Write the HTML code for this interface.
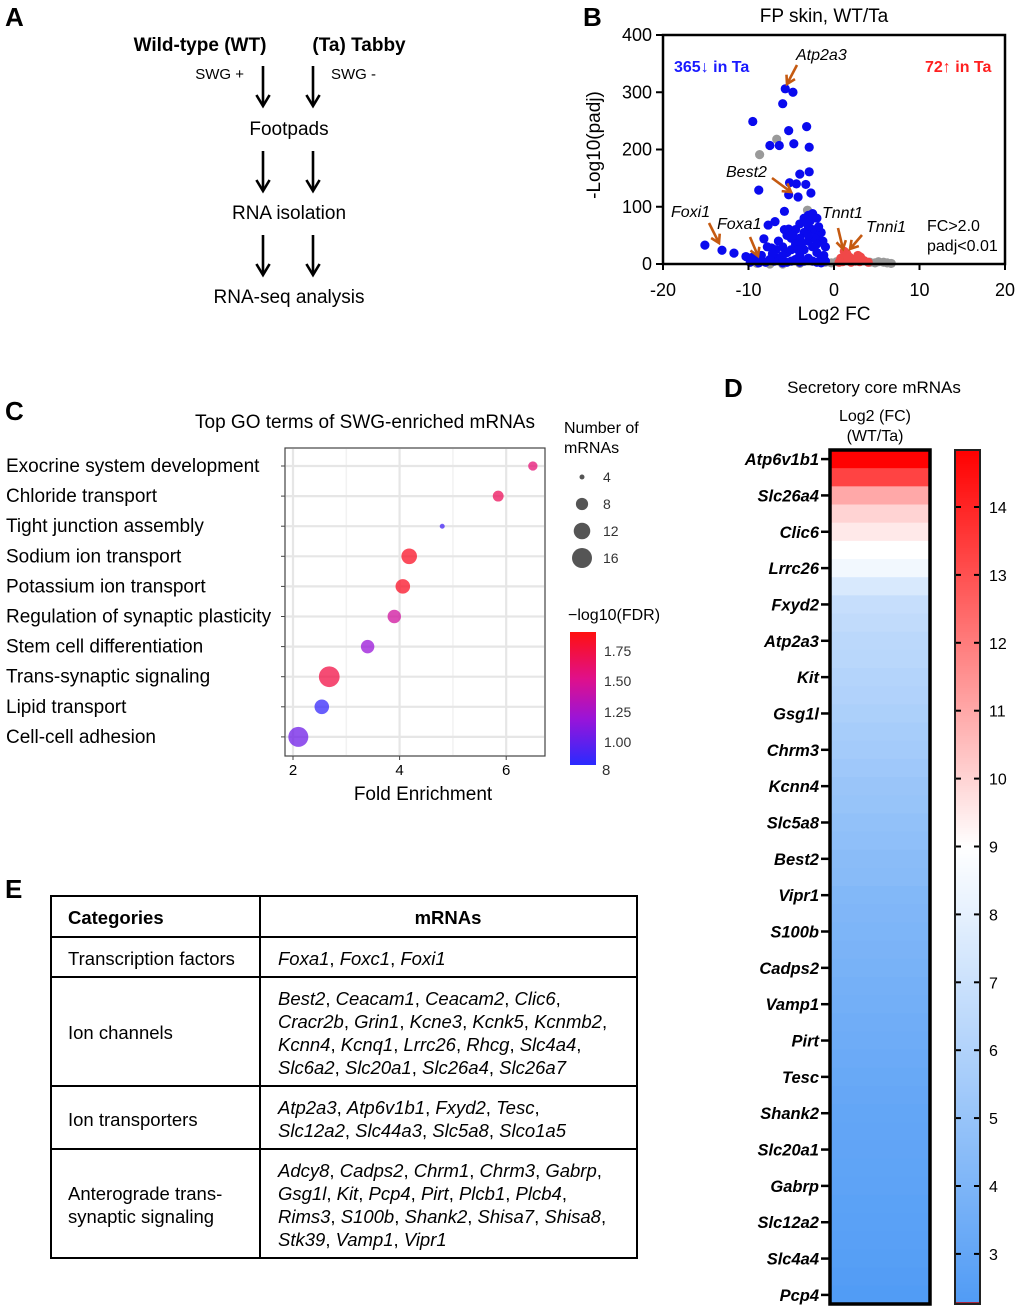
<!DOCTYPE html>
<html><head><meta charset="utf-8">
<style>
html,body{margin:0;padding:0;background:#fff;}
svg{display:block;font-family:"Liberation Sans",Arial,sans-serif;}
</style></head>
<body>
<svg id="fig" width="1020" height="1312" viewBox="0 0 1020 1312">
<defs>
<linearGradient id="fdrgrad" x1="0" y1="1" x2="0" y2="0"><stop offset="0" stop-color="#2a2aff"/><stop offset="0.35" stop-color="#9a14d8"/><stop offset="0.65" stop-color="#e0108a"/><stop offset="1" stop-color="#ff1010"/></linearGradient>
</defs>

<!-- Panel A -->
<g>
<text x="5" y="26" font-size="26" font-weight="bold">A</text>
<text x="200" y="51" font-size="19" font-weight="bold" text-anchor="middle">Wild-type (WT)</text>
<text x="359" y="51" font-size="19" font-weight="bold" text-anchor="middle">(Ta) Tabby</text>
<text x="244" y="79" font-size="15" text-anchor="end">SWG +</text>
<text x="331" y="79" font-size="15">SWG -</text>
<g id="flow"></g>
<text x="289" y="135" font-size="19" text-anchor="middle">Footpads</text>
<text x="289" y="219" font-size="19" text-anchor="middle">RNA isolation</text>
<text x="289" y="303" font-size="19" text-anchor="middle">RNA-seq analysis</text>
</g>

<!-- Panel B -->
<g id="volcano">
<text x="583" y="26" font-size="26" font-weight="bold">B</text>
<text x="824" y="22" font-size="19" text-anchor="middle">FP skin, WT/Ta</text>
<text transform="translate(600,145) rotate(-90)" font-size="19" text-anchor="middle">-Log10(padj)</text>
<text x="834" y="320" font-size="19" text-anchor="middle">Log2 FC</text>
<g id="vpts"></g>
<rect x="663" y="35" width="342" height="229" fill="none" stroke="#000" stroke-width="2.5"/>
<g id="vaxes"></g>
<text x="674" y="72" font-size="16" font-weight="bold" fill="#1a1aff">365↓ in Ta</text>
<text x="925" y="72" font-size="16" font-weight="bold" fill="#ff2020">72↑ in Ta</text>
<g font-size="16" font-style="italic">
<text x="796" y="60">Atp2a3</text><text x="726" y="177">Best2</text><text x="671" y="217">Foxi1</text>
<text x="717" y="229">Foxa1</text><text x="822" y="218">Tnnt1</text><text x="866" y="232">Tnni1</text>
</g>
<g id="oarrows"></g>
<text x="927" y="231" font-size="16">FC&gt;2.0</text>
<text x="927" y="251" font-size="16">padj&lt;0.01</text>
</g>

<!-- Panel C -->
<g id="dotplot">
<text x="5" y="420" font-size="26" font-weight="bold">C</text>
<text x="195" y="428" font-size="19">Top GO terms of SWG-enriched mRNAs</text>
<rect x="285" y="448" width="260" height="308" fill="#fff" stroke="#444" stroke-width="1.2"/>
<g id="cgrid"></g><g id="cpts"></g><g id="clabels"></g>
<text x="423" y="800" font-size="19" text-anchor="middle">Fold Enrichment</text>
<text x="564" y="433" font-size="16">Number of</text>
<text x="564" y="453" font-size="16">mRNAs</text>
<g id="sizeleg"></g>
<text x="568" y="620" font-size="16">−log10(FDR)</text>
<rect x="570" y="632" width="26" height="133" fill="url(#fdrgrad)"/>
<g font-size="14" fill="#333">
<text x="604" y="656">1.75</text><text x="604" y="686">1.50</text><text x="604" y="717">1.25</text><text x="604" y="747">1.00</text><text x="602" y="775" font-size="15">8</text>
</g>
</g>

<!-- Panel D -->
<g id="heat">
<text x="724" y="397" font-size="26" font-weight="bold">D</text>
<text x="874" y="393" font-size="17" text-anchor="middle">Secretory core mRNAs</text>
<text x="875" y="421" font-size="16" text-anchor="middle">Log2 (FC)</text>
<text x="875" y="441" font-size="16" text-anchor="middle">(WT/Ta)</text>
<g id="hcells"></g><g id="hlabels"></g><g id="hbar"></g>
<rect x="830" y="450" width="100" height="854" fill="none" stroke="#000" stroke-width="3.5"/>
<rect x="955" y="450" width="25" height="854" fill="none" stroke="#222" stroke-width="2"/>
</g>

<!-- Panel E -->
<g font-size="18.5">
<text x="5" y="898" font-size="26" font-weight="bold">E</text>
<rect x="51" y="896" width="586" height="362" fill="none" stroke="#000" stroke-width="2"/>
<g stroke="#000" stroke-width="2">
<line x1="260" y1="896" x2="260" y2="1258"/>
<line x1="51" y1="937" x2="637" y2="937"/><line x1="51" y1="977" x2="637" y2="977"/>
<line x1="51" y1="1086" x2="637" y2="1086"/><line x1="51" y1="1149" x2="637" y2="1149"/>
</g>
<text x="68" y="924" font-weight="bold">Categories</text>
<text x="448" y="924" font-weight="bold" text-anchor="middle">mRNAs</text>
<text x="68" y="965">Transcription factors</text>
<text x="68" y="1039">Ion channels</text>
<text x="68" y="1126">Ion transporters</text>
<text x="68" y="1200">Anterograde trans-</text>
<text x="68" y="1223">synaptic signaling</text>
<g font-style="italic">
<text x="278" y="965">Foxa1<tspan font-style="normal">, </tspan>Foxc1<tspan font-style="normal">, </tspan>Foxi1</text>
<text x="278" y="1005">Best2<tspan font-style="normal">, </tspan>Ceacam1<tspan font-style="normal">, </tspan>Ceacam2<tspan font-style="normal">, </tspan>Clic6<tspan font-style="normal">,</tspan></text>
<text x="278" y="1028">Cracr2b<tspan font-style="normal">, </tspan>Grin1<tspan font-style="normal">, </tspan>Kcne3<tspan font-style="normal">, </tspan>Kcnk5<tspan font-style="normal">, </tspan>Kcnmb2<tspan font-style="normal">,</tspan></text>
<text x="278" y="1051">Kcnn4<tspan font-style="normal">, </tspan>Kcnq1<tspan font-style="normal">, </tspan>Lrrc26<tspan font-style="normal">, </tspan>Rhcg<tspan font-style="normal">, </tspan>Slc4a4<tspan font-style="normal">,</tspan></text>
<text x="278" y="1074">Slc6a2<tspan font-style="normal">, </tspan>Slc20a1<tspan font-style="normal">, </tspan>Slc26a4<tspan font-style="normal">, </tspan>Slc26a7</text>
<text x="278" y="1114">Atp2a3<tspan font-style="normal">, </tspan>Atp6v1b1<tspan font-style="normal">, </tspan>Fxyd2<tspan font-style="normal">, </tspan>Tesc<tspan font-style="normal">,</tspan></text>
<text x="278" y="1137">Slc12a2<tspan font-style="normal">, </tspan>Slc44a3<tspan font-style="normal">, </tspan>Slc5a8<tspan font-style="normal">, </tspan>Slco1a5</text>
<text x="278" y="1177">Adcy8<tspan font-style="normal">, </tspan>Cadps2<tspan font-style="normal">, </tspan>Chrm1<tspan font-style="normal">, </tspan>Chrm3<tspan font-style="normal">, </tspan>Gabrp<tspan font-style="normal">,</tspan></text>
<text x="278" y="1200">Gsg1l<tspan font-style="normal">, </tspan>Kit<tspan font-style="normal">, </tspan>Pcp4<tspan font-style="normal">, </tspan>Pirt<tspan font-style="normal">, </tspan>Plcb1<tspan font-style="normal">, </tspan>Plcb4<tspan font-style="normal">,</tspan></text>
<text x="278" y="1223">Rims3<tspan font-style="normal">, </tspan>S100b<tspan font-style="normal">, </tspan>Shank2<tspan font-style="normal">, </tspan>Shisa7<tspan font-style="normal">, </tspan>Shisa8<tspan font-style="normal">,</tspan></text>
<text x="278" y="1246">Stk39<tspan font-style="normal">, </tspan>Vamp1<tspan font-style="normal">, </tspan>Vipr1</text>
</g>
</g>
</svg>
<script>
const NS='http://www.w3.org/2000/svg';
function mk(tag,attrs,parent){const e=document.createElementNS(NS,tag);for(const k in attrs)e.setAttribute(k,attrs[k]);parent.appendChild(e);return e;}
function arrow(x1,y1,x2,y2,col,w,hl,parent){
  const dx=x2-x1,dy=y2-y1,L=Math.hypot(dx,dy),ux=dx/L,uy=dy/L,px=-uy,py=ux;
  mk('line',{x1:x1,y1:y1,x2:x2-ux*1,y2:y2-uy*1,stroke:col,'stroke-width':w},parent);
  const bx=x2-ux*hl,by=y2-uy*hl;
  mk('polyline',{points:`${bx+px*hl*0.6},${by+py*hl*0.6} ${x2},${y2} ${bx-px*hl*0.6},${by-py*hl*0.6}`,fill:'none',stroke:col,'stroke-width':w,'stroke-linejoin':'miter'},parent);
}
const fl=document.getElementById('flow');
[[66,106],[151,191],[235,275]].forEach(([a,b])=>{arrow(263,a,263,b,'#000',2.6,11,fl);arrow(313,a,313,b,'#000',2.6,11,fl);});
const oa=document.getElementById('oarrows');
[[797,65,787,84],[772,178,791,192],[709,223,719,243],[750,237,758,256],[838,228,843,249],[862,235,850,249]].forEach(a=>arrow(a[0],a[1],a[2],a[3],'#c55a11',2.6,8,oa));

// ===== Panel B data =====
const volcanoXTicks=[-20,-10,0,10,20];
const volcanoYTicks=[0,100,200,300,400];
const greyPoints=[[-6.7,218],[-8.7,191],[-3.1,94],[-1,3],[-0.3,2],[0.3,4],[4.2,3],[4.8,2],[5.2,4],[5.8,3],[6.2,2],[6.7,1],[-6,0],[-4,1],[-9,1],[-7.5,0]];
const bluePoints=[[-5.7,306],[-4.8,300],[-6.0,280],[-9.5,249],[-3.2,240],[-5.3,233],[-7.5,207],[-6.4,207],[-4.7,210],[-2.9,204],[-4.0,157],[-2.9,161],[-8.8,129],[-5.2,142],[-4.4,140],[-3.3,139],[-2.7,124],[-5.3,121],[-4.2,117],[-5.8,92],[-6.9,74],[-7.7,68],[-5.3,61],[-8.2,44],[-7.3,28],[-15.1,33],[-13.1,24],[-11.7,19],[-10.3,13],[-8.5,5],
[-6.5,40],[-6,30],[-5.5,50],[-5,45],[-4.5,60],[-4,70],[-3.5,80],[-3,85],[-2.5,88],[-2,80],[-1.5,55],[-1,30],[-1.2,15],[-2,50],[-2.5,60],[-3,65],[-3.5,55],[-4,45],[-4.5,35],[-5,25],[-5.5,20],[-6,15],[-6.5,10],[-7,5],[-7.5,8],[-8,3],[-3,40],[-2.5,30],[-2,20],[-1.5,10],[-3.5,25],[-4,15],[-4.5,8],[-5,5],[-5.5,3],[-6,2],[-3,10],[-2.5,5],[-2,3],[-1.5,2],[-3.5,5],[-4,3],[-2.8,75],[-3.2,72],[-1.8,65],[-2.2,45],[-3.8,35],[-4.2,25],[-1.3,40],[-6.8,25],[-7.2,18],[-9.5,12],[-9,8],[-8.5,15],[-7.8,30],[-5.8,60],[-4.8,50],[-3,50],[-2,35],[-1,5],[-9.8,3],[-8.8,2]];
const redPoints=[[1.2,22],[1.5,18],[0.8,10],[1.8,12],[2.2,8],[2.8,15],[3.1,12],[3.5,6],[4,3],[1,4],[2,3],[2.5,5],[1.3,14],[0.6,3],[1.6,6],[3.0,4]];

const vx=v=>834+v*8.55, vy=v=>264-v*0.5725;
const vp=document.getElementById('vpts');
[[greyPoints,'#9a9a9a','grey-point'],[bluePoints,'#0a0aee','down-point'],[redPoints,'#f04848','up-point']].forEach(([arr,col,nm])=>{
  arr.forEach(p=>{const c=mk('circle',{cx:vx(p[0]),cy:vy(p[1]),r:4.6,fill:col},vp);
  
  });
});
const va=document.getElementById('vaxes');
volcanoXTicks.forEach(t=>{mk('line',{x1:vx(t),x2:vx(t),y1:264,y2:270,stroke:'#000','stroke-width':2},va);
  const tx=mk('text',{x:vx(t),y:296,'font-size':18,'text-anchor':'middle'},va);tx.textContent=t;
  
  });
volcanoYTicks.forEach(t=>{mk('line',{x1:656,x2:663,y1:vy(t),y2:vy(t),stroke:'#000','stroke-width':2},va);
  const tx=mk('text',{x:652,y:vy(t)+6,'font-size':18,'text-anchor':'end'},va);tx.textContent=t;
  
  });

// ===== Panel C data =====
const goTerms=['Exocrine system development','Chloride transport','Tight junction assembly','Sodium ion transport','Potassium ion transport','Regulation of synaptic plasticity','Stem cell differentiation','Trans-synaptic signaling','Lipid transport','Cell-cell adhesion'];
const foldEnrichment=[6.5,5.85,4.8,4.18,4.06,3.9,3.4,2.68,2.54,2.1];
const geneCounts=[6,7,4,11,10,9,9,17,10,16];
const fdrValues=[1.6,1.68,0.9,1.85,1.85,1.45,1.2,1.75,0.85,1.05];
const feTicks=[2,4,6];
const sizeLegend=[4,8,12,16];

const cx=v=>293+(v-2)*53.3, cy=i=>466+i*30.1;
const rad=n=>Math.sqrt(Math.max(4,-25+7.8*n));
function fdrCol(f){const t=Math.max(0,Math.min(1,(f-0.81)/(1.92-0.81)));
  const stops=[[0,[42,42,255]],[0.35,[154,20,216]],[0.65,[224,16,138]],[1,[255,16,16]]];
  for(let i=1;i<stops.length;i++){if(t<=stops[i][0]){const a=stops[i-1],b=stops[i],u=(t-a[0])/(b[0]-a[0]);
    return 'rgb('+a[1].map((c,k)=>Math.round(c+(b[1][k]-c)*u)).join(',')+')';}}return 'rgb(255,16,16)';}
const cg=document.getElementById('cgrid');
[3,5].forEach(t=>mk('line',{x1:cx(t),x2:cx(t),y1:449,y2:755,stroke:'#f2f2f2','stroke-width':1.5},cg));
feTicks.forEach(t=>{mk('line',{x1:cx(t),x2:cx(t),y1:449,y2:755,stroke:'#e6e6e6','stroke-width':2.2},cg);
  mk('line',{x1:cx(t),x2:cx(t),y1:756,y2:760,stroke:'#444'},cg);
  const tx=mk('text',{x:cx(t),y:775,'font-size':15,'text-anchor':'middle'},cg);tx.textContent=t;
  
  });
const cl=document.getElementById('clabels'), cpts=document.getElementById('cpts');
goTerms.forEach((g,i)=>{mk('line',{x1:286,x2:544,y1:cy(i),y2:cy(i),stroke:'#e6e6e6','stroke-width':2.2},cg);
  mk('line',{x1:281,x2:285,y1:cy(i),y2:cy(i),stroke:'#444'},cg);
  const tx=mk('text',{x:6,y:cy(i)+6,'font-size':19},cl);tx.textContent=g;
  
  
  const c=mk('circle',{cx:cx(foldEnrichment[i]),cy:cy(i),r:rad(geneCounts[i]),fill:fdrCol(fdrValues[i]),'fill-opacity':0.75},cpts);
  
  });
const sl=document.getElementById('sizeleg');
sizeLegend.forEach((n,i)=>{const y=477+i*27;
  const c=mk('circle',{cx:582,cy:y,r:rad(n),fill:'#555'},sl);
  
  
  const tx=mk('text',{x:603,y:y+5,'font-size':14,fill:'#333'},sl);tx.textContent=n;
  
  });

// ===== Panel D data =====
const heatGenes=['Atp6v1b1','Slc26a4','Clic6','Lrrc26','Fxyd2','Atp2a3','Kit','Gsg1l','Chrm3','Kcnn4','Slc5a8','Best2','Vipr1','S100b','Cadps2','Vamp1','Pirt','Tesc','Shank2','Slc20a1','Gabrp','Slc12a2','Slc4a4','Pcp4'];
const heatValues=[14.8,13.3,11.0,10.0,9.5,9.0,8.5,7.5,6.8,6.6,6.4,6.3,6.1,6.0,5.8,5.6,5.5,5.3,5.1,5.0,4.8,4.7,4.5,4.4,4.2,4.1,4.0,3.9,3.8,3.7,3.6,3.5,3.4,3.3,3.2,3.1,3.0,2.95,2.9,2.85,2.8,2.7,2.65,2.6,2.5,2.4,2.3];
const heatTicks=[3,4,5,6,7,8,9,10,11,12,13,14];
const hMin=2.26,hMid=9,hMax=14.84;
function heatCol(v){let r,g,b;
  if(v<=hMid){const u=Math.max(0,(v-hMin)/(hMid-hMin));r=80+175*u;g=155+100*u;b=245+10*u;}
  else{const u=Math.min(1,(v-hMid)/(hMax-hMid));r=255;g=255*(1-u);b=255*(1-u);}
  return 'rgb('+[r,g,b].map(Math.round).join(',')+')';}
const rowH=854/heatValues.length;
const hc=document.getElementById('hcells');
heatValues.forEach((v,i)=>{const r=mk('rect',{x:830,y:450+i*rowH,width:100,height:rowH+0.6,fill:heatCol(v)},hc);
  
  });
const hl=document.getElementById('hlabels');
heatGenes.forEach((g,k)=>{const y=450+(2*k+0.5)*rowH;
  mk('line',{x1:821,x2:829,y1:y,y2:y,stroke:'#000','stroke-width':2.5},hl);
  const tx=mk('text',{x:819,y:y+6,'font-size':16.5,'font-weight':'bold','font-style':'italic','text-anchor':'end'},hl);tx.textContent=g;
  
  });
const hb=document.getElementById('hbar');
const by=v=>507+(14-v)*67.9;
for(let y=450;y<1304;y+=2){const v=14-(y+1-507)/67.9;mk('rect',{x:955,y:y,width:25,height:2.4,fill:heatCol(v)},hb);}
heatTicks.forEach(t=>{mk('line',{x1:956,x2:961,y1:by(t),y2:by(t),stroke:'#000','stroke-width':2},hb);
  mk('line',{x1:974,x2:980,y1:by(t),y2:by(t),stroke:'#000','stroke-width':2},hb);
  const tx=mk('text',{x:989,y:by(t)+6,'font-size':16},hb);tx.textContent=t;
  
  });
mk('line',{x1:956,x2:979,y1:1303,y2:1303,stroke:'#c00','stroke-width':1.5},hb);
</script>
</body></html>
